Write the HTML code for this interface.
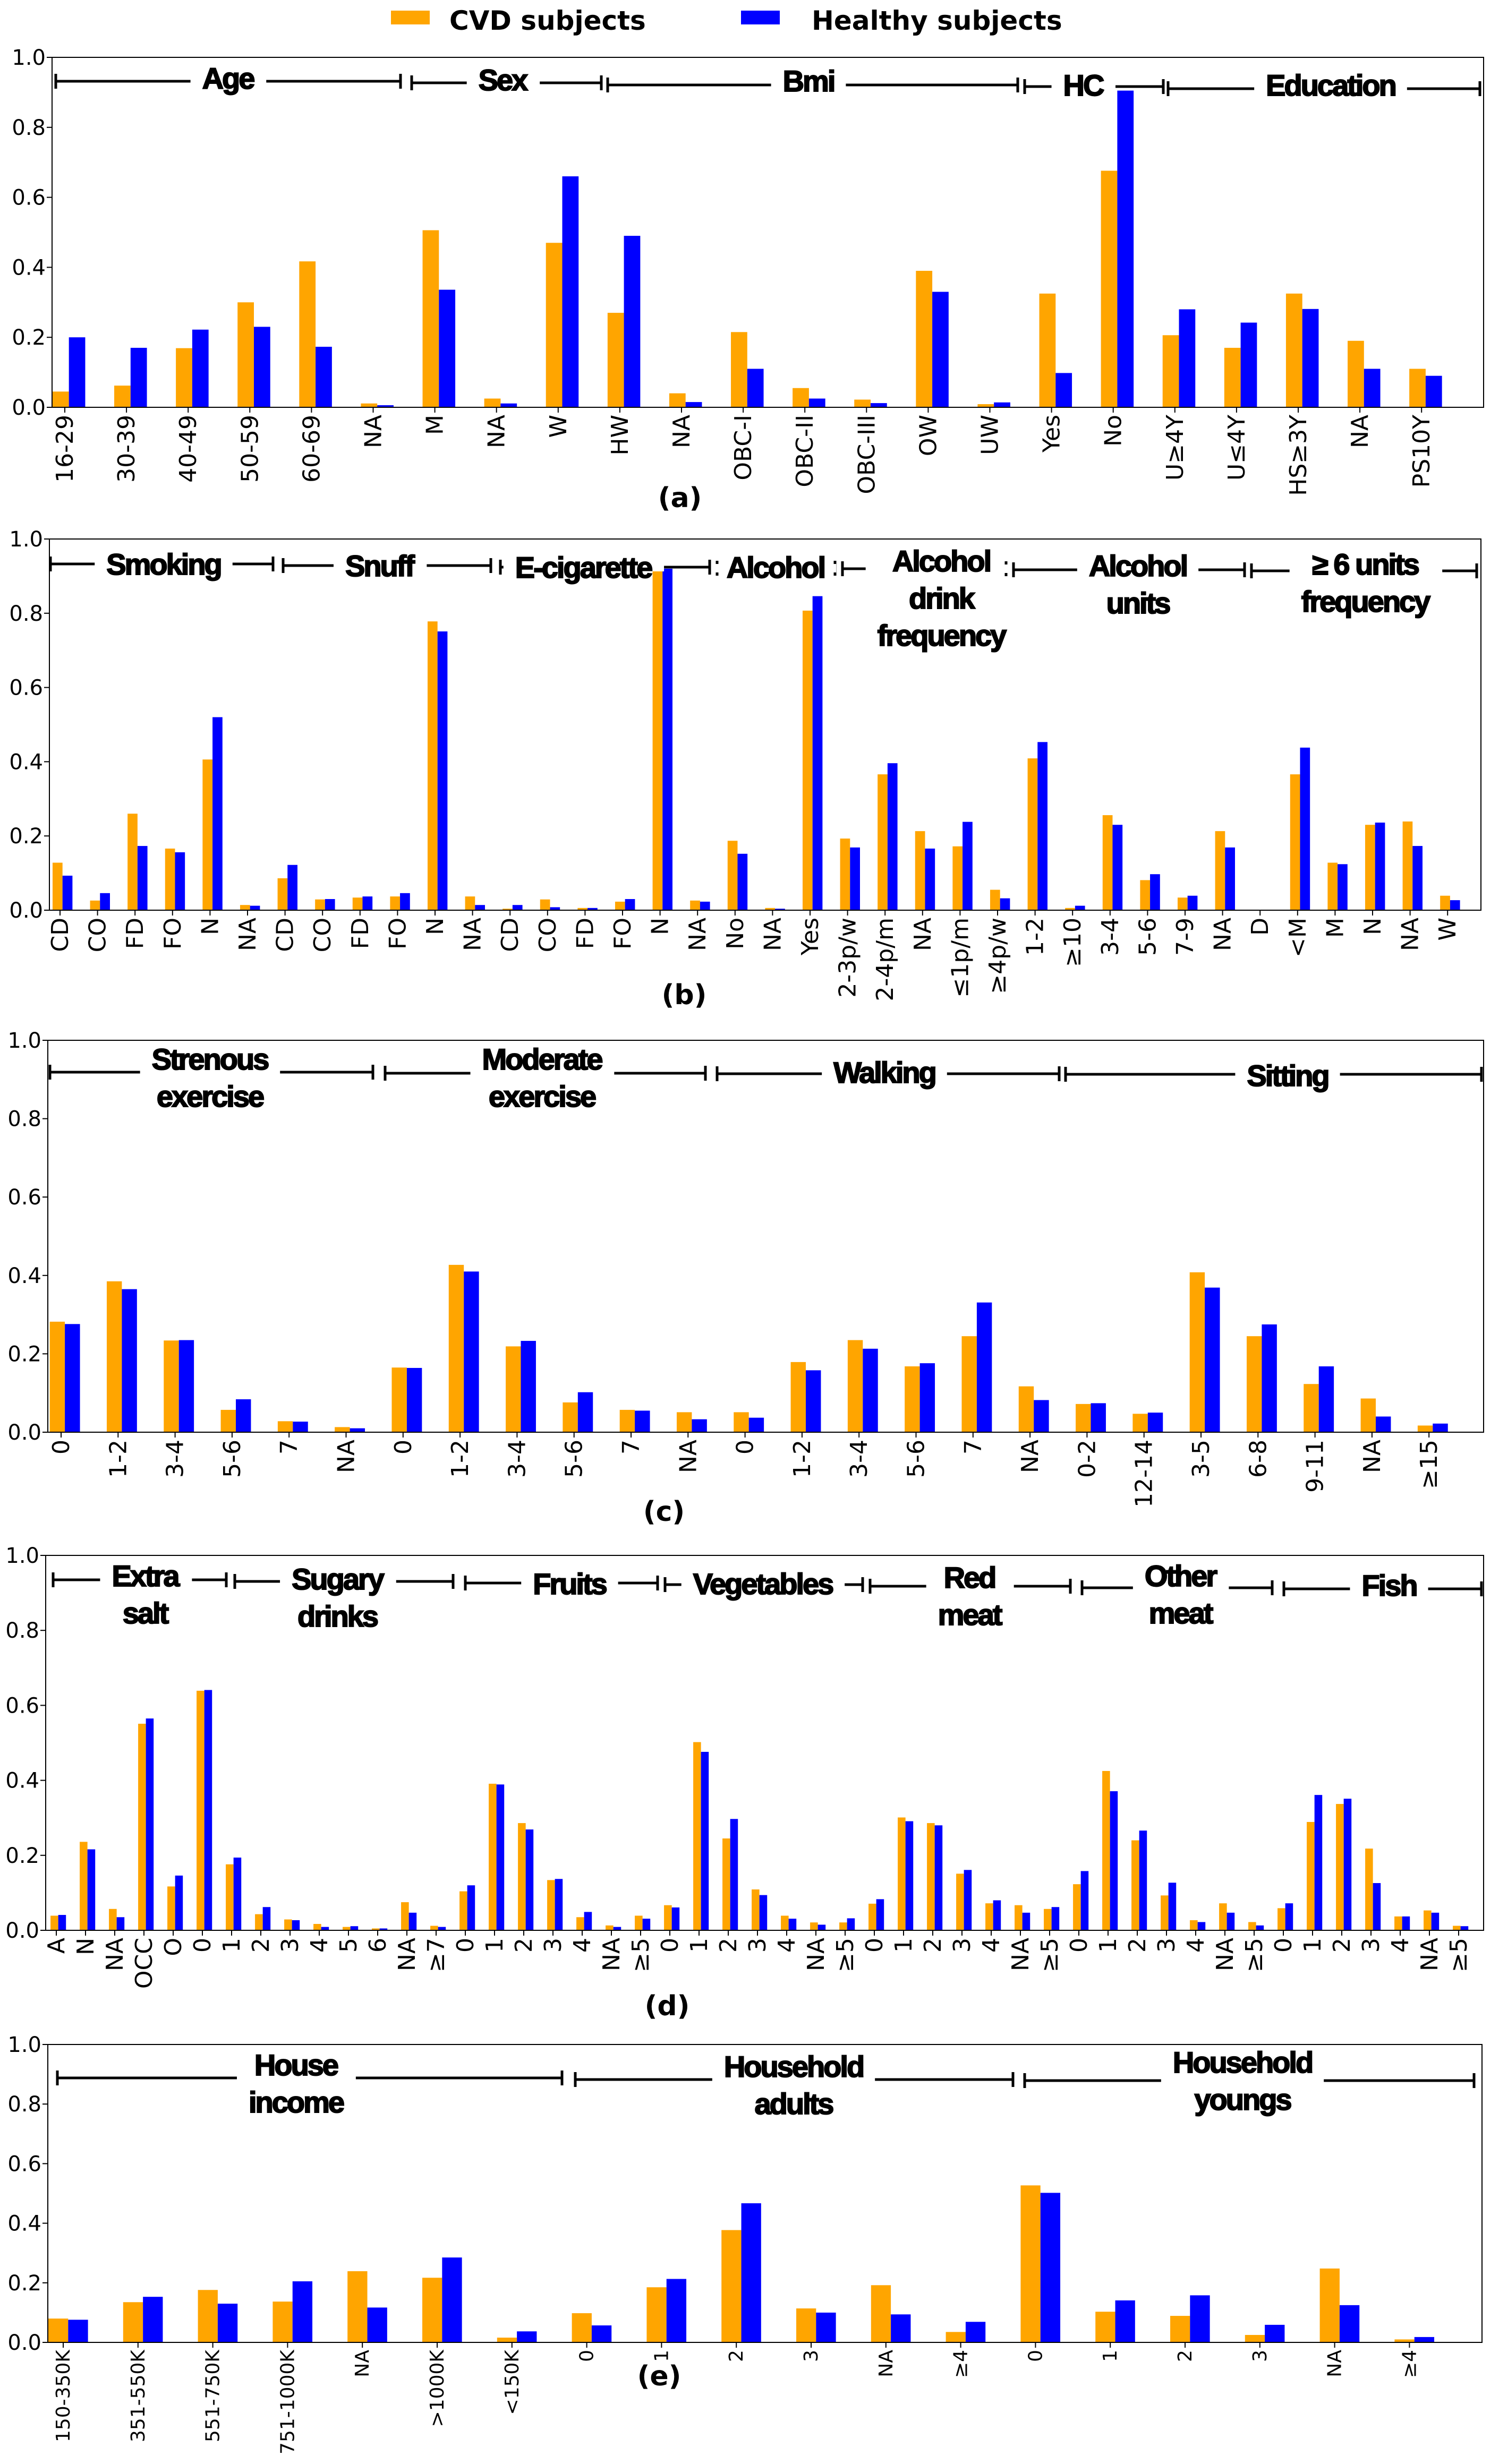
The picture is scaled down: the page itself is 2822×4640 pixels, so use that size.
<!DOCTYPE html>
<html><head><meta charset="utf-8"><style>
html,body{margin:0;padding:0;background:#fff;}
svg{display:block;}
.tk{font-family:"DejaVu Sans","Liberation Sans",sans-serif;font-size:44px;fill:#000;}
.tke{font-family:"DejaVu Sans","Liberation Sans",sans-serif;font-size:36px;fill:#000;}
.yt{font-family:"DejaVu Sans","Liberation Sans",sans-serif;font-size:40px;fill:#000;}
.grp{font-family:"Liberation Sans",sans-serif;font-weight:bold;font-size:56px;letter-spacing:-3px;fill:#000;stroke:#000;stroke-width:2px;}
.pl{font-family:"DejaVu Sans","Liberation Sans",sans-serif;font-weight:bold;font-size:52px;fill:#000;}
.lg{font-family:"DejaVu Sans","Liberation Sans",sans-serif;font-weight:bold;font-size:50px;fill:#000;}
</style></head><body>
<svg id="chart" xmlns="http://www.w3.org/2000/svg" width="2822" height="4640" viewBox="0 0 2822 4640">
<rect x="0" y="0" width="2822" height="4640" fill="#fff"/>
<g>
<rect x="736" y="20" width="73" height="26" fill="#FFA500"/>
<text class="lg" x="846" y="56">CVD subjects</text>
<rect x="1395" y="20" width="73" height="26" fill="#0000FF"/>
<text class="lg" x="1528" y="56">Healthy subjects</text>
</g>
</svg>
<script>
// ---------- data ----------
const catsA = ["16-29","30-39","40-49","50-59","60-69","NA","M","NA","W","HW","NA","OBC-I","OBC-II","OBC-III","OW","UW","Yes","No","U≥4Y","U≤4Y","HS≥3Y","NA","PS10Y"];
const cvdA = [0.045,0.062,0.169,0.30,0.417,0.011,0.506,0.025,0.47,0.27,0.04,0.215,0.055,0.022,0.39,0.009,0.325,0.676,0.206,0.17,0.325,0.19,0.11];
const hA = [0.20,0.17,0.222,0.23,0.173,0.006,0.336,0.011,0.66,0.49,0.015,0.11,0.025,0.012,0.33,0.014,0.098,0.905,0.28,0.242,0.281,0.11,0.09];

const catsB = ["CD","CO","FD","FO","N","NA","CD","CO","FD","FO","N","NA","CD","CO","FD","FO","N","NA","No","NA","Yes","2-3p/w","2-4p/m","NA","≤1p/m","≥4p/w","1-2","≥10","3-4","5-6","7-9","NA","D","<M","M","N","NA","W"];
const cvdB = [0.128,0.026,0.26,0.166,0.406,0.014,0.086,0.029,0.034,0.037,0.778,0.037,0.004,0.029,0.006,0.023,0.913,0.026,0.187,0.006,0.807,0.193,0.366,0.213,0.172,0.055,0.409,0.006,0.256,0.081,0.034,0.213,0,0.366,0.128,0.23,0.239,0.039];
const hB = [0.093,0.046,0.173,0.156,0.52,0.012,0.122,0.03,0.037,0.046,0.751,0.014,0.014,0.008,0.006,0.03,0.92,0.023,0.152,0.004,0.846,0.169,0.396,0.166,0.238,0.032,0.453,0.012,0.23,0.097,0.039,0.169,0,0.438,0.124,0.236,0.173,0.027];

const catsC = ["0","1-2","3-4","5-6","7","NA","0","1-2","3-4","5-6","7","NA","0","1-2","3-4","5-6","7","NA","0-2","12-14","3-5","6-8","9-11","NA","≥15"];
const cvdC = [0.282,0.385,0.234,0.057,0.028,0.013,0.165,0.427,0.219,0.076,0.057,0.051,0.051,0.179,0.235,0.168,0.245,0.117,0.072,0.047,0.408,0.245,0.123,0.086,0.017];
const hC = [0.276,0.365,0.235,0.084,0.027,0.01,0.164,0.41,0.233,0.102,0.055,0.033,0.037,0.158,0.213,0.176,0.331,0.082,0.074,0.05,0.369,0.275,0.168,0.04,0.022];

const catsD = ["A","N","NA","OCC","O","0","1","2","3","4","5","6","NA","≥7","0","1","2","3","4","NA","≥5","0","1","2","3","4","NA","≥5","0","1","2","3","4","NA","≥5","0","1","2","3","4","NA","≥5","0","1","2","3","4","NA","≥5"];
const cvdD = [0.039,0.236,0.057,0.551,0.117,0.639,0.176,0.043,0.029,0.017,0.009,0.005,0.075,0.012,0.104,0.391,0.286,0.134,0.035,0.013,0.039,0.067,0.502,0.245,0.109,0.039,0.021,0.021,0.071,0.301,0.286,0.151,0.072,0.067,0.057,0.123,0.425,0.24,0.093,0.027,0.072,0.022,0.059,0.289,0.337,0.218,0.037,0.053,0.012];
const hD = [0.041,0.216,0.035,0.565,0.146,0.641,0.194,0.062,0.027,0.009,0.011,0.005,0.047,0.009,0.12,0.389,0.269,0.137,0.049,0.009,0.031,0.061,0.476,0.297,0.094,0.031,0.015,0.032,0.083,0.291,0.28,0.161,0.08,0.047,0.062,0.158,0.371,0.266,0.127,0.022,0.047,0.013,0.072,0.361,0.351,0.126,0.037,0.047,0.011];

const catsE = ["150-350K","351-550K","551-750K","751-1000K","NA",">1000K","<150K","0","1","2","3","NA","≥4","0","1","2","3","NA","≥4"];
const cvdE = [0.08,0.135,0.176,0.137,0.239,0.217,0.016,0.098,0.185,0.377,0.114,0.192,0.035,0.527,0.103,0.089,0.025,0.248,0.01];
const hE = [0.076,0.153,0.13,0.205,0.117,0.285,0.037,0.057,0.213,0.467,0.1,0.094,0.069,0.502,0.141,0.158,0.059,0.125,0.018];

const yTicks = [0.0,0.2,0.4,0.6,0.8,1.0];
const yTickLabels = ["0.0","0.2","0.4","0.6","0.8","1.0"];

// ---------- layout ----------
const panels = [
 {id:"a",cats:catsA,cvd:cvdA,h:hA,top:108,bottom:767,left:98,right:2793,x0:122,step:116.1,lab:[1280,937],tk:"tk",
  groups:[[105,754,429,153,["Age"],147],[775,1132,946,156,["Sex"],150],[1144,1916,1522,160,["Bmi"],152],[1929,2190,2039,163,["HC"],160],[2199,2786,2505,167,["Education"],160]]},
 {id:"b",cats:catsB,cvd:cvdB,h:hB,top:1015,bottom:1714,left:93,right:2788,x0:113,step:70.6,lab:[1288,1873],tk:"tk",
  groups:[[95,514,308,1062,["Smoking"],1062],[533,924,714,1065,["Snuff"],1065],[942,1336,1098,1068,["E-cigarette"],1068],[1350,1572,1460,1070,["Alcohol"],1068],[1586,1894,1772,1071,["Alcohol","drink","frequency"],1056],[1908,2343,2142,1073,["Alcohol","units"],1065],[2356,2780,2570,1075,["≥ 6 units","frequency"],1062]]},
 {id:"c",cats:catsC,cvd:cvdC,h:hC,top:1959,bottom:2697,left:90,right:2793,x0:115,step:107.3,lab:[1250,2846],tk:"tk",
  groups:[[94,702,395,2019,["Strenous","exercise"],1994],[725,1328,1020,2021,["Moderate","exercise"],1994],[1350,1994,1665,2022,["Walking"],2019],[2006,2789,2424,2023,["Sitting"],2025]]},
 {id:"d",cats:catsD,cvd:cvdD,h:hD,top:2929,bottom:3635,left:86,right:2793,x0:106,step:55.0,lab:[1256,3777],tk:"tk",
  groups:[[100,426,273,2975,["Extra","salt"],2967],[442,853,635,2978,["Sugary","drinks"],2973],[876,1238,1072,2981,["Fruits"],2982],[1252,1624,1436,2984,["Vegetables"],2982],[1638,2015,1825,2987,["Red","meat"],2970],[2037,2395,2222,2990,["Other","meat"],2967],[2417,2789,2615,2992,["Fish"],2985]]},
 {id:"e",cats:catsE,cvd:cvdE,h:hE,top:3850,bottom:4411,left:90,right:2790,x0:119,step:140.8,lab:[1241,4474],tk:"tke",
  groups:[[108,1058,557,3913,["House","income"],3888],[1083,1907,1494,3916,["Household","adults"],3891],[1929,2775,2339,3918,["Household","youngs"],3883]]}
];

const NS="http://www.w3.org/2000/svg";
const svg=document.getElementById("chart");
function mk(tag,attrs,parent){const e=document.createElementNS(NS,tag);for(const k in attrs)e.setAttribute(k,attrs[k]);(parent||svg).appendChild(e);return e;}

panels.forEach(p=>{
  const g=mk("g",{});
  
  
  const yS=v=>p.bottom-(p.bottom-p.top)*v;
  const xS=i=>p.x0+p.step*i;
  const bw=p.step*0.265;
  yTicks.forEach((v,i)=>{
    const y=yS(v);
    const t=mk("line",{x1:p.left-10,x2:p.left,y1:y,y2:y,stroke:"#000","stroke-width":2},g);
    
    
    const tx=mk("text",{x:p.left-12,y:y+14,"text-anchor":"end",class:"yt"},g);
    tx.textContent=yTickLabels[i];
    
    
  });
  p.cats.forEach((c,i)=>{
    const cx=xS(i);
    const ox=cx-bw*0.75;
    const b1=mk("rect",{x:ox,y:yS(p.cvd[i]),width:bw,height:p.bottom-yS(p.cvd[i]),fill:"#FFA500"},g);
    
    
    const b2=mk("rect",{x:ox+bw,y:yS(p.h[i]),width:bw,height:p.bottom-yS(p.h[i]),fill:"#0000FF"},g);
    
    
    const tk=mk("line",{x1:cx,x2:cx,y1:p.bottom,y2:p.bottom+10,stroke:"#000","stroke-width":2},g);
    
    
    const lx=cx+(p.tk==="tke"?12:15);
    const lt=mk("text",{x:lx,y:p.bottom+14,"text-anchor":"end",class:p.tk,transform:"rotate(-90 "+lx+" "+(p.bottom+14)+")"},g);
    lt.textContent=c;
    
    
  });
  const fr=mk("rect",{x:p.left,y:p.top,width:p.right-p.left,height:p.bottom-p.top,fill:"none",stroke:"#000","stroke-width":2},g);
  
  
  p.groups.forEach(gr=>{
    const [x1,x2,tcx,ly,lines,ty]=gr;
    const gg=mk("g",{},g);
    
    
    mk("line",{x1:x1,x2:x2,y1:ly,y2:ly,stroke:"#000","stroke-width":5},gg);
    mk("line",{x1:x1,x2:x1,y1:ly-14,y2:ly+14,stroke:"#000","stroke-width":5},gg);
    mk("line",{x1:x2,x2:x2,y1:ly-14,y2:ly+14,stroke:"#000","stroke-width":5},gg);
    const tg=mk("g",{},gg);
    lines.forEach((s,k)=>{
      const t=mk("text",{x:tcx,y:ty+20+k*70,"text-anchor":"middle",class:"grp"},tg);
      t.textContent=s;
      
      
    });
    const bb=tg.getBBox();
    const bg=mk("rect",{x:bb.x-22,y:ly-8,width:bb.width+44,height:16,fill:"#fff"});
    gg.insertBefore(bg,tg);
  });
  const pl=mk("text",{x:p.lab[0],y:p.lab[1]+18,"text-anchor":"middle",class:"pl"},g);
  if(p.id==="e"){pl.setAttribute("font-size","48");}
  pl.textContent="("+p.id+")";
  
  
});
</script>
</body></html>
